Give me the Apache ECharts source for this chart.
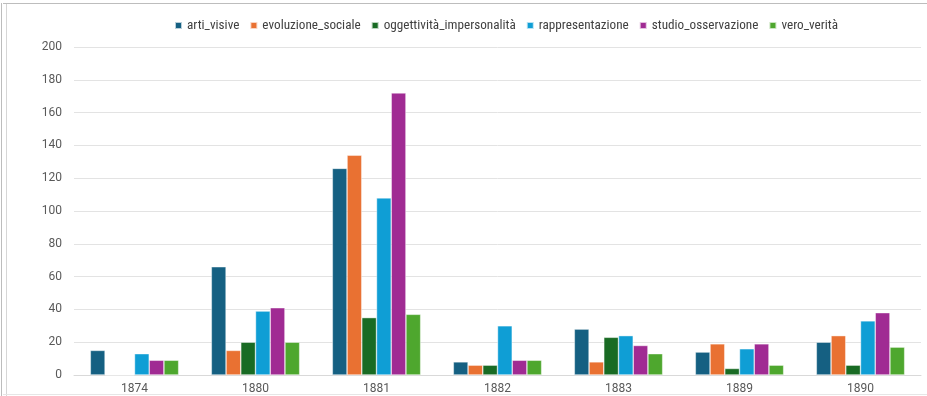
<!DOCTYPE html>
<html>
<head>
<meta charset="utf-8">
<script src="https://cdn.jsdelivr.net/npm/echarts@6/dist/echarts.min.js"></script>
<style>
  html, body { margin: 0; padding: 0; background: #ffffff; }
  #chart { width: 927px; height: 396px; }
</style>
</head>
<body>
<div id="chart"></div>
<script>
// Years on the category axis
const years = ['1874', '1880', '1881', '1882', '1883', '1889', '1890'];

// Occurrences per theme and year
const artiVisive = [15, 66, 126, 8, 28, 14, 20];
const evoluzioneSociale = [0, 15, 134, 6, 8, 19, 24];
const oggettivitaImpersonalita = [0, 20, 35, 6, 23, 4, 6];
const rappresentazione = [13, 39, 108, 30, 24, 16, 33];
const studioOsservazione = [9, 41, 172, 9, 18, 19, 38];
const veroVerita = [9, 20, 37, 9, 13, 6, 17];

const seriesNames = [
  'arti_visive',
  'evoluzione_sociale',
  'oggettività_impersonalità',
  'rappresentazione',
  'studio_osservazione',
  'vero_verità'
];
const seriesValues = [
  artiVisive,
  evoluzioneSociale,
  oggettivitaImpersonalita,
  rappresentazione,
  studioOsservazione,
  veroVerita
];
const palette = ['#156082', '#E97132', '#196B24', '#0F9ED5', '#A02B93', '#4EA72E'];

const chart = echarts.init(document.getElementById('chart'), null, { renderer: 'canvas' });

const font = 'Roboto, "Liberation Sans", sans-serif';
const legendFont = '"Liberation Sans Narrow", "Roboto Condensed", Roboto, sans-serif';

chart.setOption({
  animation: false,
  backgroundColor: '#ffffff',
  color: palette,
  textStyle: { fontFamily: font },
  legend: {
    top: 14,
    left: 169,
    itemWidth: 7,
    itemHeight: 7,
    itemGap: 10,
    icon: 'rect',
    textStyle: { fontSize: 13.2, color: '#404040', fontFamily: legendFont },
    data: seriesNames
  },
  grid: {
    left: 74,
    right: 6,
    top: 47,
    bottom: 21,
    containLabel: false
  },
  xAxis: {
    type: 'category',
    data: years,
    axisLine: { show: true, lineStyle: { color: '#d9d9d9', width: 1 } },
    axisTick: { show: false },
    axisLabel: { color: '#595959', fontSize: 12, margin: 8, fontFamily: font }
  },
  yAxis: {
    type: 'value',
    min: 0,
    max: 200,
    interval: 20,
    axisLine: { show: false },
    axisTick: { show: false },
    axisLabel: { color: '#595959', fontSize: 12, margin: 12, fontFamily: font },
    splitLine: { show: true, lineStyle: { color: '#e3e3e3', width: 1 } }
  },
  series: seriesNames.map((name, i) => ({
    name: name,
    type: 'bar',
    data: seriesValues[i],
    barGap: '0%',
    barCategoryGap: '27%',
    itemStyle: { color: palette[i], borderColor: 'rgba(255,255,255,0.7)', borderWidth: 0.6 }
  })),
  graphic: [
    // outer frame around the chart area
    { type: 'line', shape: { x1: 3, y1: 3.5, x2: 927, y2: 3.5 }, style: { stroke: '#bdbdbd', lineWidth: 1 }, silent: true },
    { type: 'line', shape: { x1: 1.5, y1: 3, x2: 1.5, y2: 396 }, style: { stroke: '#bdbdbd', lineWidth: 1 }, silent: true },
    { type: 'line', shape: { x1: 6.5, y1: 4, x2: 6.5, y2: 396 }, style: { stroke: '#d6d6d6', lineWidth: 1 }, silent: true },
    { type: 'line', shape: { x1: 3, y1: 394.5, x2: 927, y2: 394.5 }, style: { stroke: '#e6e6e6', lineWidth: 1 }, silent: true }
  ]
});
</script>
</body>
</html>
